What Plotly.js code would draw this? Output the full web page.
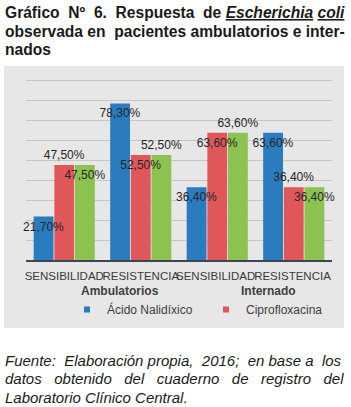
<!DOCTYPE html>
<html>
<head>
<meta charset="utf-8">
<script src="https://cdn.plot.ly/plotly-3.0.1.min.js"></script>
<style>html,body{margin:0;padding:0;background:#fff;}#chart{width:351px;height:407px;}</style>
</head>
<body>
<div id="chart"></div>
<script>
// ---- data ----
const categories = ['SENSIBILIDAD', 'RESISTENCIA', 'SENSIBILIDAD ', 'RESISTENCIA '];
const groupLabels = ['Ambulatorios', 'Internado'];
const seriesNames = ['Ácido Nalidíxico', 'Ciprofloxacina', 'Serie 3'];
const acidoNalidixico = [21.7, 78.3, 36.4, 63.6];
const ciprofloxacina = [47.5, 52.5, 63.6, 36.4];
const serie3 = [47.5, 52.5, 63.6, 36.4];
const labelPos1 = ['inside', 'inside', 'inside', 'inside'];
const labelPos2 = ['outside', 'inside', 'inside', 'outside'];
const labelPos3 = ['inside', 'outside', 'outside', 'inside'];

const colors = ['#2b7bbf', '#e0575a', '#8cc350'];
const fmt = v => v.toFixed(2).replace('.', ',') + '%';
const NB = '\u00A0';
const FAM = 'Liberation Sans, Arial, sans-serif';

function barTrace(name, vals, color, grp) {
  return {
    type: 'bar', name: name, x: categories, y: vals, offsetgroup: grp,
    marker: {color: color, line: {width: 0}},
    showlegend: false
  };
}
// transparent twin bars drawn afterwards, carrying the data labels on top of all bars
function labelTrace(name, vals, pos, grp) {
  const f = {family: FAM, size: 12, color: '#262626'};
  return {
    type: 'bar', name: name, x: categories, y: vals, offsetgroup: grp,
    marker: {color: 'rgba(0,0,0,0)', line: {width: 0}},
    text: vals.map(fmt), textposition: pos, textangle: 0,
    insidetextanchor: 'end', constraintext: 'none', cliponaxis: false,
    textfont: f, insidetextfont: f, outsidetextfont: f,
    showlegend: false, hoverinfo: 'skip'
  };
}
function legendTrace(name, color) {
  return {type: 'scatter', mode: 'markers', name: name, x: [null], y: [null],
    marker: {symbol: 'square', size: 6, color: color}, showlegend: true, hoverinfo: 'skip'};
}

const data = [
  barTrace(seriesNames[0], acidoNalidixico, colors[0], 'a'),
  barTrace(seriesNames[1], ciprofloxacina, colors[1], 'b'),
  barTrace(seriesNames[2], serie3, colors[2], 'c'),
  labelTrace(seriesNames[0], acidoNalidixico, labelPos1, 'a'),
  labelTrace(seriesNames[1], ciprofloxacina, labelPos2, 'b'),
  labelTrace(seriesNames[2], serie3, labelPos3, 'c'),
  legendTrace(seriesNames[0], colors[0]),
  legendTrace(seriesNames[1], colors[1])
];

// pixel helpers for text placed around the plot (plot area: x 26..332, y 70..260)
const W = 351, H = 407;
const L = 26, R = 332, T = 70, B = 260;
const px = x => (x - L) / (R - L);
const py = y => (B - y) / (B - T);

const titleFont = {family: FAM, size: 15.6, color: '#1a1a1a'};
const footFont = {family: FAM, size: 15, color: '#1a1a1a'};

function ann(text, x, y, font, xanchor) {
  return {text: text, xref: 'paper', yref: 'paper', x: x, y: y, xanchor: xanchor || 'left', yanchor: 'middle',
    showarrow: false, font: font, align: 'left'};
}

const annotations = [
  ann('<b>Gráfico' + NB + ' Nº' + NB + ' 6.' + NB + ' Respuesta' + NB + ' de <i><u>Escherichia</u></i> <i><u>coli</u></i></b>', px(3), py(12.7), titleFont),
  ann('<b>observada en' + NB + ' pacientes ambulatorios e inter-</b>', px(3), py(31.7), titleFont),
  ann('<b>nados</b>', px(3), py(49.5), titleFont),
  ann('<i>Fuente:' + NB + ' Elaboración propia,' + NB + ' 2016;' + NB + ' en base a' + NB + ' los</i>', px(3), py(360), footFont),
  ann('<i>datos' + NB + NB + ' obtenido' + NB + NB + ' del' + NB + NB + ' cuaderno' + NB + NB + ' de' + NB + NB + ' registro' + NB + NB + ' del</i>', px(3), py(378.5), footFont),
  ann('<i>Laboratorio Clínico Central.</i>', px(3), py(397), footFont),
  ann('<b>' + groupLabels[0] + '</b>', px(119.5), py(291), {family: FAM, size: 12, color: '#404040'}, 'center'),
  ann('<b>' + groupLabels[1] + '</b>', px(268), py(291), {family: FAM, size: 12, color: '#404040'}, 'center')
];

const layout = {
  width: W, height: H,
  margin: {l: L, r: W - R, t: T, b: H - B, pad: 0},
  paper_bgcolor: '#ffffff',
  plot_bgcolor: 'rgba(0,0,0,0)',
  barmode: 'group', bargap: 0.19, bargroupgap: 0.04,
  font: {family: FAM},
  xaxis: {
    type: 'category', showgrid: false, zeroline: false,
    showline: true, linecolor: '#3a4650', linewidth: 2,
    ticks: '', tickangle: 0, tickfont: {family: FAM, size: 11.5, color: '#3a3a3a'},
    ticklabelstandoff: 4
  },
  yaxis: {
    range: [0, 95], dtick: 10, showgrid: true, gridcolor: '#c6c6c6', gridwidth: 1,
    zeroline: false, showticklabels: false, ticks: '', showline: false
  },
  legend: {
    orientation: 'h', xref: 'container', yref: 'container',
    x: 67 / W, y: (H - 295) / H, xanchor: 'left', yanchor: 'top',
    entrywidth: 94, entrywidthmode: 'pixels',
    bgcolor: 'rgba(0,0,0,0)', font: {family: FAM, size: 12, color: '#404040'},
    itemclick: false, traceorder: 'normal'
  },
  shapes: [{
    type: 'rect', xref: 'paper', yref: 'paper', layer: 'below',
    x0: px(4), x1: px(344), y0: py(328), y1: py(66),
    fillcolor: '#e7e7e7', line: {width: 0}
  }],
  annotations: annotations,
  showlegend: true
};

Plotly.newPlot('chart', data, layout, {displayModeBar: false, staticPlot: true});
</script>
</body>
</html>
